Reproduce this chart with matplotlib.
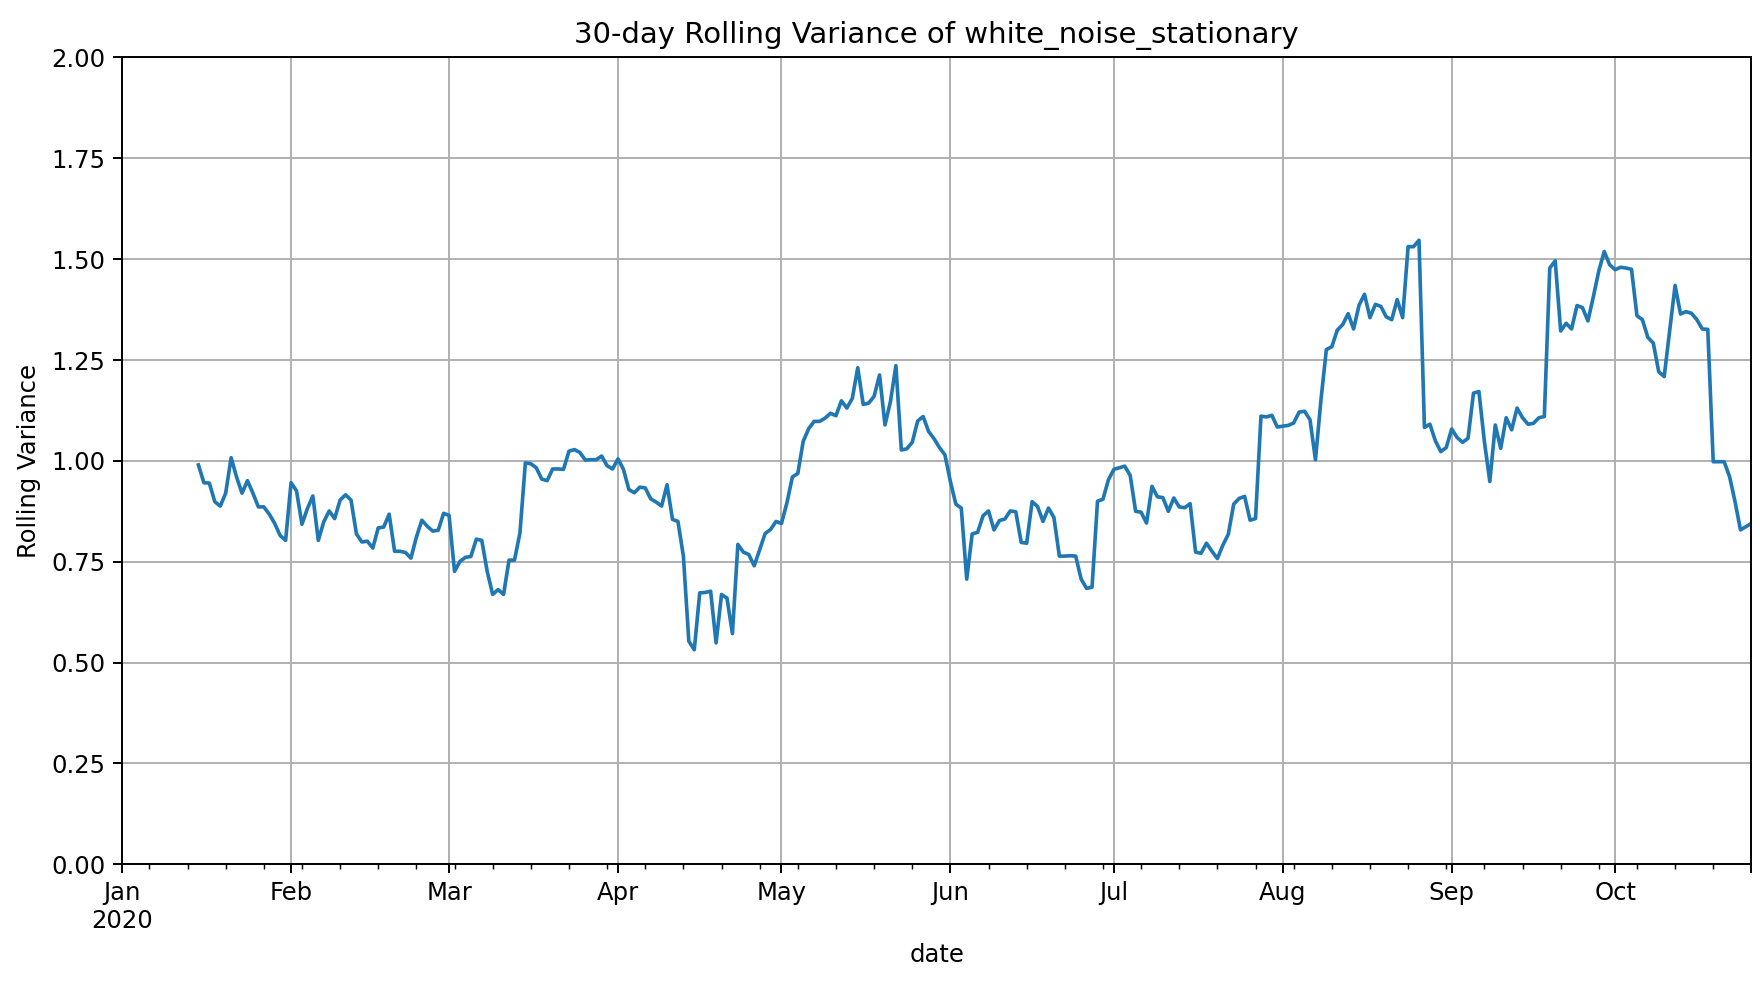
import matplotlib
matplotlib.use("Agg")
import matplotlib.pyplot as plt
import numpy as np
import pandas as pd

# ---- data ----
start_date = "2020-01-01"
n_days = 300
first_valid_day = 14  # rolling window not yet filled before this index

rolling_variance = [
    0.990, 0.946, 0.945, 0.899, 0.888, 0.920, 1.008, 0.960, 0.920, 0.951,   # d14-23
    0.920, 0.886, 0.886, 0.868, 0.845, 0.815, 0.803, 0.946, 0.926, 0.843,   # d24-33
    0.882, 0.913, 0.803, 0.849, 0.876, 0.857, 0.903, 0.916, 0.903, 0.819,   # d34-43
    0.799, 0.801, 0.784, 0.834, 0.836, 0.868, 0.776, 0.776, 0.773, 0.759,   # d44-53
    0.811, 0.853, 0.838, 0.826, 0.828, 0.870, 0.865, 0.726, 0.751, 0.761,   # d54-63
    0.763, 0.806, 0.803, 0.726, 0.669, 0.681, 0.669, 0.754, 0.754, 0.821,   # d64-73
    0.995, 0.993, 0.983, 0.955, 0.951, 0.980, 0.980, 0.979, 1.024, 1.028,   # d74-83
    1.021, 1.002, 1.003, 1.003, 1.012, 0.988, 0.980, 1.005, 0.979, 0.929,   # d84-93
    0.921, 0.935, 0.933, 0.906, 0.898, 0.888, 0.941, 0.855, 0.850, 0.764,   # d94-103
    0.553, 0.532, 0.673, 0.674, 0.677, 0.549, 0.669, 0.660, 0.572, 0.793,   # d104-113
    0.774, 0.768, 0.740, 0.780, 0.820, 0.830, 0.850, 0.845, 0.896, 0.960,   # d114-123
    0.969, 1.049, 1.080, 1.098, 1.098, 1.106, 1.118, 1.112, 1.149, 1.131,   # d124-133
    1.155, 1.231, 1.140, 1.143, 1.160, 1.213, 1.089, 1.147, 1.236, 1.027,   # d134-143
    1.030, 1.046, 1.099, 1.110, 1.073, 1.055, 1.033, 1.015, 0.949, 0.893,   # d144-153
    0.883, 0.707, 0.819, 0.823, 0.864, 0.876, 0.829, 0.852, 0.856, 0.876,   # d154-163
    0.874, 0.798, 0.796, 0.899, 0.887, 0.850, 0.883, 0.860, 0.764, 0.764,   # d164-173
    0.765, 0.764, 0.707, 0.684, 0.687, 0.900, 0.905, 0.953, 0.979, 0.983,   # d174-183
    0.987, 0.964, 0.875, 0.873, 0.846, 0.937, 0.911, 0.909, 0.875, 0.908,   # d184-193
    0.886, 0.884, 0.894, 0.774, 0.771, 0.796, 0.776, 0.758, 0.791, 0.818,   # d194-203
    0.893, 0.907, 0.912, 0.853, 0.857, 1.111, 1.109, 1.113, 1.084, 1.086,   # d204-213
    1.088, 1.094, 1.121, 1.123, 1.102, 1.003, 1.150, 1.276, 1.283, 1.324,   # d214-223
    1.338, 1.365, 1.327, 1.386, 1.413, 1.355, 1.388, 1.383, 1.357, 1.350,   # d224-233
    1.400, 1.355, 1.531, 1.531, 1.547, 1.083, 1.091, 1.050, 1.023, 1.033,   # d234-243
    1.079, 1.058, 1.046, 1.056, 1.168, 1.172, 1.048, 0.949, 1.089, 1.031,   # d244-253
    1.107, 1.077, 1.131, 1.107, 1.091, 1.093, 1.107, 1.110, 1.478, 1.496,   # d254-263
    1.322, 1.341, 1.327, 1.385, 1.380, 1.347, 1.407, 1.471, 1.519, 1.486,   # d264-273
    1.474, 1.480, 1.478, 1.475, 1.360, 1.350, 1.306, 1.292, 1.221, 1.209,   # d274-283
    1.322, 1.435, 1.364, 1.370, 1.366, 1.350, 1.327, 1.326, 0.998, 0.998,   # d284-293
    0.998, 0.961, 0.899, 0.829, 0.837, 0.845,                               # d294-299
]

title_text = "30-day Rolling Variance of white_noise_stationary"
x_label = "date"
y_label = "Rolling Variance"
y_limits = (0.0, 2.0)

# ---- build series ----
dates = pd.date_range(start_date, periods=n_days, freq="D")
values = [np.nan] * first_valid_day + rolling_variance
series = pd.Series(values, index=dates)

# ---- figure ----
DPI = 175
fig = plt.figure(figsize=(1760 / DPI, 984 / DPI), dpi=DPI)
ax = fig.add_axes([0.0694, 0.1216, 0.9257, 0.8200])

series.plot(ax=ax, grid=True, color="#1f77b4", linewidth=1.5)
ax.set_ylim(*y_limits)
ax.set_title(title_text)
ax.set_xlabel(x_label)
ax.set_ylabel(y_label)

fig.savefig("out.png", dpi=DPI)
